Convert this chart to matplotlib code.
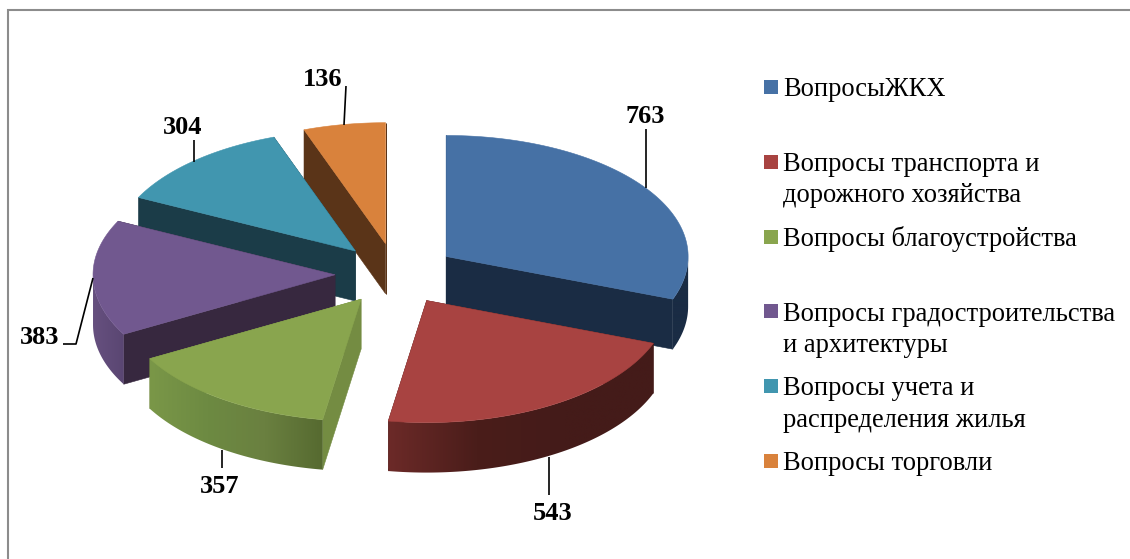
import numpy as np
import matplotlib
matplotlib.use("Agg")
import matplotlib.pyplot as plt
from matplotlib.patches import Polygon, Rectangle
from matplotlib.colors import LinearSegmentedColormap

# ---- data ----
categories = ["ВопросыЖКХ", "Вопросы транспорта и\nдорожного хозяйства",
              "Вопросы благоустройства", "Вопросы градостроительства\nи архитектуры",
              "Вопросы учета и\nраспределения жилья", "Вопросы торговли"]
values = [763, 543, 357, 383, 304, 136]

# ---- styles ----
top_colors = ["#4671A5", "#A84341", "#89A54E", "#71588F", "#4196AF", "#D9823C"]
cut_colors = ["#1A2C44", "#441C19", "#748C42", "#37283F", "#1B3C48", "#5A3418"]
# outer wall shade from its left end to its right end
wall_stops = [["#1A2C44", "#1A2C44"],
              ["#6C2A28", "#4A1D1A", "#441B19", "#441B19"],
              ["#7A9748", "#6D8A42", "#6A8040", "#566A30"],
              ["#66507F", "#5A4672"],
              ["#1B3C48", "#1B3C48"],
              ["#5A3418", "#5A3418"]]
cx, cy, rx, ry_front, ry_back = 396, 274, 242, 122, 121
explode, depth = 61, 50
draw_order = [5, 4, 3, 2, 0, 1]
SERIF = "Liberation Serif"

fig = plt.figure(figsize=(11.30, 5.59), dpi=100, facecolor="white")
ax = fig.add_axes([0, 0, 1, 1])
ax.set_xlim(0, 1130)
ax.set_ylim(559, 0)
ax.axis("off")

# the frame shows only on its left and top sides, running off the picture
ax.plot([8, 8, 1130], [559, 10, 10], color="#8C8C8C", lw=1.5, zorder=0,
        solid_joinstyle="miter", solid_capstyle="butt")

fractions = np.array(values, dtype=float) / sum(values)
edges = np.concatenate([[0], np.cumsum(fractions) * 2 * np.pi])


def point(ox, oy, theta):
    c = np.cos(theta)
    return ox + rx * np.sin(theta), oy - np.where(c > 0, ry_back, ry_front) * c


gradient = np.linspace(0, 1, 256).reshape(1, -1)
z = 1
for i in draw_order:
    t0, t1 = edges[i], edges[i + 1]
    mid = (t0 + t1) / 2
    ox = cx + explode * np.sin(mid)
    oy = cy - explode * ry_front / rx * np.cos(mid)

    # the two flat cut faces
    for t in (t0, t1):
        px, py = point(ox, oy, t)
        ax.add_patch(Polygon([(ox, oy), (px, py), (px, py + depth), (ox, oy + depth)],
                             fc=cut_colors[i], ec=cut_colors[i], lw=0.4, zorder=z))
        z += 1

    # outer wall: a horizontal gradient clipped to the wall's outline
    lo, hi = max(t0, np.pi / 2), min(t1, 3 * np.pi / 2)
    if hi > lo:
        ts = np.linspace(lo, hi, 120)
        xs, ys = point(ox, oy, ts)
        outline = np.column_stack([np.r_[xs, xs[::-1]], np.r_[ys, ys[::-1] + depth]])
        clip = Polygon(outline, transform=ax.transData, fc="none", ec="none")
        ax.add_patch(clip)
        cmap = LinearSegmentedColormap.from_list(f"wall{i}", wall_stops[i])
        im = ax.imshow(gradient, cmap=cmap, aspect="auto", interpolation="bilinear",
                       extent=(xs.min(), xs.max(), ys.max() + depth, ys.min()), zorder=z)
        im.set_clip_path(clip)
        z += 1

    # top face
    ts = np.linspace(t0, t1, 120)
    xs, ys = point(ox, oy, ts)
    ax.add_patch(Polygon(np.column_stack([np.r_[ox, xs], np.r_[oy, ys]]),
                         fc=top_colors[i], ec=top_colors[i], lw=0.4, zorder=z))
    z += 1

ax.set_xlim(0, 1130)
ax.set_ylim(559, 0)

# ---- value labels and leader lines ----
label_xy = [(645, 123), (553, 520), (220, 493), (39.5, 344), (183, 134), (322.5, 86)]
leaders = [[(646, 129), (646, 188)], [(549, 457), (549, 495)], [(222, 450), (222, 468)],
           [(93, 278), (76, 344), (63, 344)], [(194, 140), (194, 162)], [(346, 86), (344, 125)]]
for v, (lx, ly), pts in zip(values, label_xy, leaders):
    ax.text(lx, ly, str(v), family=SERIF, weight="bold", fontsize=19, color="black",
            ha="center", va="baseline", zorder=z + 1)
    ax.plot(*zip(*pts), color="black", lw=1.2, zorder=z + 1, solid_capstyle="butt")

# ---- legend ----
for k, (name, col) in enumerate(zip(categories, top_colors)):
    y = 80 + 74.8 * k
    ax.add_patch(Rectangle((764, y), 14, 14, fc=col, ec="none", zorder=z))
    extra_lines = name.count("\n")
    ax.text(783, y + 16.5 + 31 * extra_lines, name, family=SERIF, fontsize=19.1, color="black",
            ha="left", va="baseline", linespacing=1.33, zorder=z)

fig.savefig("out.png", dpi=100, facecolor="white")
